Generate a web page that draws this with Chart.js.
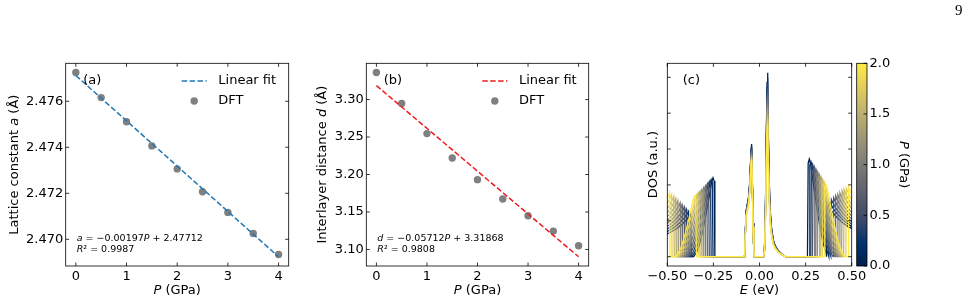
<!DOCTYPE html>
<html>
<head>
<meta charset="utf-8">
<script src="https://cdn.jsdelivr.net/npm/chart.js@4.4.0/dist/chart.umd.min.js"></script>
<style>
    html, body { margin: 0; padding: 0; background: #fff; }
    #fig { position: relative; width: 972px; height: 303px; overflow: hidden; }
    #fig canvas { position: absolute; top: 0; }
    #pagenum { position: absolute; left: 955px; top: 2px; font: 15px 'Liberation Serif', serif; color: #000; }
</style>
</head>
<body>
<div id="fig">
    <canvas id="chartA" width="300" height="303" style="left:0px"></canvas>
    <canvas id="chartB" width="300" height="303" style="left:300px"></canvas>
    <canvas id="chartC" width="280" height="303" style="left:600px"></canvas>
    <canvas id="chartBar" width="122" height="303" style="left:850px"></canvas>
    <div id="pagenum">9</div>
</div>
<script>
// --- (a) y (b): datos DFT vs presión
const pressure = [0, 0.5, 1, 1.5, 2, 2.5, 3, 3.5, 4];
const latticeA = [2.47725, 2.47616, 2.47511, 2.47406, 2.47306, 2.47207, 2.47117, 2.47025, 2.46934];
const interlayerD = [3.3361, 3.2947, 3.2546, 3.2220, 3.1931, 3.1673, 3.1450, 3.1245, 3.1049];
const fitPressure = [0, 4];
const fitLattice = [2.47712, 2.46924];
const fitInterlayer = [3.31868, 3.09020];

const ticksP = [0, 1, 2, 3, 4];
const ticksLattice = [2.470, 2.472, 2.474, 2.476];
const ticksInterlayer = [3.10, 3.15, 3.20, 3.25, 3.30];

// --- (c): DOS para varias presiones (bordes de banda y alturas)
const dosPressure = [0.0, 0.2, 0.4, 0.6, 0.8, 1.0, 1.2, 1.4, 1.6, 1.8, 2.0];
const valenceEdge = [-0.242, -0.252, -0.262, -0.272, -0.282, -0.292, -0.302, -0.312, -0.322, -0.332, -0.342];
const valencePeak = [2.20, 2.15, 2.10, 2.04, 1.98, 1.93, 1.88, 1.83, 1.78, 1.73, 1.68];
const valenceEdge2 = [-0.370, -0.382, -0.394, -0.405, -0.417, -0.428, -0.440, -0.451, -0.462, -0.474, -0.485];
const valenceStep2 = [1.20, 1.26, 1.32, 1.38, 1.44, 1.50, 1.56, 1.62, 1.68, 1.73, 1.78];
const flatPeakLow = [3.14, 3.10, 3.05, 3.01, 2.96, 2.92, 2.87, 2.83, 2.78, 2.74, 2.70];
const flatPeakHigh = [5.13, 4.99, 4.84, 4.70, 4.56, 4.42, 4.27, 4.13, 3.98, 3.84, 3.70];
const conductionEdge = [0.260, 0.269, 0.278, 0.287, 0.296, 0.305, 0.314, 0.323, 0.332, 0.341, 0.350];
const conductionPeak = [2.72, 2.65, 2.58, 2.51, 2.44, 2.37, 2.30, 2.23, 2.16, 2.09, 2.02];
const conductionEdge2 = [0.364, 0.376, 0.387, 0.399, 0.410, 0.422, 0.433, 0.445, 0.456, 0.468, 0.480];
const conductionStep2 = [1.50, 1.55, 1.59, 1.64, 1.69, 1.73, 1.78, 1.83, 1.87, 1.91, 1.95];

// forma de cada rasgo: [desplazamiento (eV), fracción de la altura]
const valenceBandShape = [[-0.115, 0], [-0.1, 0.05], [-0.085, 0.14], [-0.07, 0.28], [-0.055, 0.45], [-0.04, 0.64], [-0.028, 0.8], [-0.018, 0.94], [-0.01, 1.0], [-0.004, 0.96], [0, 0]];
const valenceBand2Shape = [[-0.25, 0.4], [-0.18, 0.46], [-0.12, 0.55], [-0.08, 0.65], [-0.05, 0.75], [-0.025, 0.86], [-0.01, 0.95], [-0.003, 1.0], [0, 0]];
const conductionBandShape = [[0, 0], [0.004, 0.96], [0.01, 1.0], [0.018, 0.94], [0.028, 0.8], [0.04, 0.64], [0.055, 0.45], [0.07, 0.28], [0.085, 0.14], [0.1, 0.05], [0.115, 0]];
const conductionBand2Shape = [[0, 0], [0.003, 1.0], [0.01, 0.95], [0.025, 0.86], [0.05, 0.75], [0.08, 0.65], [0.12, 0.55], [0.18, 0.46], [0.25, 0.4]];
const flatLowShape = [[-0.081, 0], [-0.077, 0.2], [-0.073, 0.4], [-0.067, 0.46], [-0.06, 0.52], [-0.054, 0.64], [-0.049, 0.82], [-0.045, 0.97], [-0.043, 1.0], [-0.04, 0.8], [-0.035, 0.3], [-0.031, 0.06], [-0.028, 0]];
const flatHighShape = [[0.022, 0], [0.027, 0.04], [0.032, 0.25], [0.037, 0.65], [0.041, 0.95], [0.043, 1.0], [0.046, 0.88], [0.05, 0.55], [0.055, 0.33], [0.06, 0.22], [0.066, 0.15], [0.075, 0.09], [0.085, 0.06], [0.1, 0.035], [0.12, 0.015], [0.14, 0]];

const ticksEnergy = [-0.5, -0.25, 0, 0.25, 0.5];
const ticksDos = [0, 1, 2, 3, 4, 5];
const ticksColorbar = [0, 0.5, 1.0, 1.5, 2.0];
const colorbarRange = [0, 2];

const cividisStops = ['#00204D', '#00336F', '#39486B', '#575C6D', '#707173', '#8A8779', '#A69D75', '#C4B56C', '#E4CF5B', '#FFEA46'];

Chart.defaults.font.family = "'DejaVu Sans', sans-serif";
Chart.defaults.font.size = 13;
Chart.defaults.color = '#000';
Chart.defaults.animation = false;
Chart.defaults.responsive = false;
Chart.defaults.plugins.legend.display = false;
Chart.defaults.plugins.tooltip.enabled = false;

const FONT = "'DejaVu Sans', sans-serif";

function cividis(t) {
    const n = cividisStops.length - 1;
    const f = Math.max(0, Math.min(1, t)) * n;
    const i = Math.min(Math.floor(f), n - 1);
    const u = f - i;
    const a = cividisStops[i], b = cividisStops[i + 1];
    const ch = (h, k) => parseInt(h.substr(1 + 2 * k, 2), 16);
    const c = [0, 1, 2].map(k => Math.round(ch(a, k) + (ch(b, k) - ch(a, k)) * u));
    return `rgb(${c[0]},${c[1]},${c[2]})`;
}

function drawRuns(ctx, runs, x, y, size, align, rot) {
    ctx.save();
    ctx.translate(x, y);
    if (rot) ctx.rotate(rot);
    const fontOf = r => (r.i ? 'italic ' : '') + size + 'px ' + FONT;
    let w = 0;
    runs.forEach(r => { ctx.font = fontOf(r); w += ctx.measureText(r.t).width; });
    let cx = align === 'center' ? -w / 2 : 0;
    ctx.textBaseline = 'middle';
    ctx.textAlign = 'left';
    ctx.fillStyle = '#000';
    runs.forEach(r => {
        ctx.font = fontOf(r);
        ctx.fillText(r.t, cx, 0);
        cx += ctx.measureText(r.t).width;
    });
    ctx.restore();
}

// marco, marcas de graduación hacia dentro, leyenda y textos
function decor(cfg) {
    return {
        id: 'decor',
        afterDatasetsDraw(chart) {
            const { ctx, chartArea: a, scales } = chart;
            const len = 3.5;
            ctx.save();
            ctx.strokeStyle = '#000';
            ctx.lineWidth = 0.8;
            ctx.strokeRect(a.left, a.top, a.right - a.left, a.bottom - a.top);
            ctx.beginPath();
            if (cfg.xTicks !== false) {
                scales.x.ticks.forEach(t => {
                    const p = scales.x.getPixelForValue(t.value);
                    ctx.moveTo(p, a.bottom); ctx.lineTo(p, a.bottom - len);
                    ctx.moveTo(p, a.top); ctx.lineTo(p, a.top + len);
                });
            }
            scales.y.ticks.forEach(t => {
                const p = scales.y.getPixelForValue(t.value);
                if (cfg.yLeft !== false) { ctx.moveTo(a.left, p); ctx.lineTo(a.left + len, p); }
                ctx.moveTo(a.right, p); ctx.lineTo(a.right - len, p);
            });
            ctx.stroke();

            if (cfg.legend) {
                const lg = cfg.legend;
                const y1 = a.top + 17.7, y2 = a.top + 37.7;
                ctx.strokeStyle = lg.lineColor;
                ctx.lineWidth = 1.5;
                ctx.setLineDash([5.5, 2.4]);
                ctx.beginPath();
                ctx.moveTo(a.left + 116, y1); ctx.lineTo(a.left + 141, y1);
                ctx.stroke();
                ctx.setLineDash([]);
                ctx.fillStyle = lg.markerColor;
                ctx.beginPath();
                ctx.arc(a.left + 128.5, y2, 3.7, 0, Math.PI * 2);
                ctx.fill();
                drawRuns(ctx, [{ t: lg.labels[0] }], a.left + 152.6, y1, 13, 'left', 0);
                drawRuns(ctx, [{ t: lg.labels[1] }], a.left + 152.6, y2, 13, 'left', 0);
            }
            ctx.restore();

            (cfg.texts || []).forEach(tx => {
                const [x, y] = tx.at(a);
                drawRuns(ctx, tx.runs, x, y, tx.size || 13, tx.align || 'center', tx.rot || 0);
            });
        }
    };
}

function fixedTicks(values) {
    return s => { s.ticks = values.map(v => ({ value: v })); };
}

function xScale(min, max, ticks, fmt, height) {
    return {
        type: 'linear', min: min, max: max,
        afterBuildTicks: fixedTicks(ticks),
        afterFit: s => { s.height = height; },
        grid: { display: false, drawTicks: false, tickLength: 0 },
        border: { display: false },
        ticks: { autoSkip: false, maxRotation: 0, padding: 3, font: { size: 13 }, color: '#000', callback: fmt }
    };
}

function yScale(min, max, ticks, fmt, width, showLabels) {
    return {
        type: 'linear', min: min, max: max,
        afterBuildTicks: fixedTicks(ticks),
        afterFit: s => { s.width = width; },
        grid: { display: false, drawTicks: false, tickLength: 0 },
        border: { display: false },
        ticks: { display: showLabels, autoSkip: false, padding: 2.5, font: { size: 13 }, color: '#000', callback: fmt }
    };
}

const toPts = (xs, ys) => xs.map((x, i) => ({ x: x, y: ys[i] }));

function fitPanel(id, values, fitValues, yMin, yMax, yTicks, yDigits, yWidth, fitColor, letter, yTitle, yTitleGap, fitText, r2Text) {
    new Chart(document.getElementById(id), {
        type: 'scatter',
        data: {
            datasets: [
                {
                    label: 'Linear fit', data: toPts(fitPressure, fitValues), showLine: true,
                    borderColor: fitColor, borderWidth: 1.5, borderDash: [5.5, 2.4], pointRadius: 0
                },
                {
                    label: 'DFT', data: toPts(pressure, values),
                    backgroundColor: '#808080', borderWidth: 0, pointRadius: 3.7
                }
            ]
        },
        options: {
            layout: { padding: { left: 0, top: 63.3, right: 11.3, bottom: 0 } },
            scales: {
                x: xScale(-0.2, 4.2, ticksP, v => String(v), 37),
                y: yScale(yMin, yMax, yTicks, v => v.toFixed(yDigits), yWidth, true)
            }
        },
        plugins: [decor({
            legend: { lineColor: fitColor, markerColor: '#808080', labels: ['Linear fit', 'DFT'] },
            texts: [
                { runs: [{ t: '(' + letter + ')' }], at: a => [a.left + 17.5, a.top + 17.4], align: 'left' },
                { runs: [{ t: 'P', i: true }, { t: ' (GPa)' }], at: a => [(a.left + a.right) / 2, a.bottom + 25] },
                { runs: yTitle, at: a => [a.left - yTitleGap, (a.top + a.bottom) / 2], rot: -Math.PI / 2 },
                { runs: fitText, at: a => [a.left + 11, a.bottom - 27.7], size: 9.5, align: 'left' },
                { runs: r2Text, at: a => [a.left + 11, a.bottom - 16], size: 9.5, align: 'left' }
            ]
        })]
    });
}

fitPanel('chartA', latticeA, fitLattice, 2.46884, 2.47765, ticksLattice, 3, 65.7, '#1f77b4', 'a',
    [{ t: 'Lattice constant ' }, { t: 'a', i: true }, { t: ' (Å)' }], 51,
    [{ t: 'a', i: true }, { t: ' = −0.00197' }, { t: 'P', i: true }, { t: ' + 2.47712' }],
    [{ t: 'R', i: true }, { t: '² = 0.9987' }]);

fitPanel('chartB', interlayerD, fitInterlayer, 3.0779, 3.3484, ticksInterlayer, 2, 66.3, '#ee1c1c', 'b',
    [{ t: 'Interlayer distance ' }, { t: 'd', i: true }, { t: ' (Å)' }], 43.8,
    [{ t: 'd', i: true }, { t: ' = −0.05712' }, { t: 'P', i: true }, { t: ' + 3.31868' }],
    [{ t: 'R', i: true }, { t: '² = 0.9808' }]);

// --- (c) curvas DOS
function dosCurve(k) {
    const pts = [];
    const add = (shape, anchor, h, lo, hi) => shape.forEach(([o, f]) => {
        const x = anchor + o;
        if (x > lo && x < hi) pts.push({ x: x, y: h * f });
    });
    add(valenceBand2Shape, valenceEdge2[k], valenceStep2[k], -9, 9);
    add(valenceBandShape, valenceEdge[k], valencePeak[k], valenceEdge2[k], 9);
    add(flatLowShape, 0, flatPeakLow[k], -9, 9);
    add(flatHighShape, 0, flatPeakHigh[k], -9, 9);
    add(conductionBandShape, conductionEdge[k], conductionPeak[k], -9, conductionEdge2[k]);
    add(conductionBand2Shape, conductionEdge2[k], conductionStep2[k], -9, 9);
    return pts;
}

const pMax = dosPressure[dosPressure.length - 1];
const fmtEnergy = v => v.toFixed(2).replace('-', '−');

new Chart(document.getElementById('chartC'), {
    type: 'line',
    data: {
        datasets: dosPressure.map((p, k) => ({
            label: p.toFixed(1) + ' GPa',
            data: dosCurve(k),
            borderColor: cividis(p / pMax),
            borderWidth: 1.3,
            pointRadius: 0,
            tension: 0,
            order: dosPressure.length - k
        }))
    },
    options: {
        parsing: true,
        layout: { padding: { left: 0, top: 63.3, right: 28.3, bottom: 0 } },
        scales: {
            x: xScale(-0.5, 0.5, ticksEnergy, fmtEnergy, 37),
            y: yScale(-0.26, 5.39, ticksDos, v => String(v), 67.3, false)
        }
    },
    plugins: [decor({
        texts: [
            { runs: [{ t: '(c)' }], at: a => [a.left + 15.4, a.top + 17.4], align: 'left' },
            { runs: [{ t: 'E', i: true }, { t: ' (eV)' }], at: a => [(a.left + a.right) / 2, a.bottom + 25] },
            { runs: [{ t: 'DOS (a.u.)' }], at: a => [a.left - 13.8, (a.top + a.bottom) / 2], rot: -Math.PI / 2 }
        ]
    })]
});

// --- barra de color
new Chart(document.getElementById('chartBar'), {
    type: 'bar',
    data: {
        labels: [''],
        datasets: [{
            data: [colorbarRange],
            borderWidth: 0,
            barPercentage: 1,
            categoryPercentage: 1,
            backgroundColor: c => {
                const ch = c.chart;
                if (!ch.chartArea) return '#808080';
                const y = ch.scales.y;
                const g = ch.ctx.createLinearGradient(0, y.getPixelForValue(colorbarRange[0]), 0, y.getPixelForValue(colorbarRange[1]));
                cividisStops.forEach((col, i) => g.addColorStop(i / (cividisStops.length - 1), col));
                return g;
            }
        }]
    },
    options: {
        layout: { padding: { left: 6.7, top: 63.3, right: 0, bottom: 37 } },
        scales: {
            x: { display: false },
            y: Object.assign(yScale(colorbarRange[0], colorbarRange[1], ticksColorbar, v => v.toFixed(1), 105, true), {
                position: 'right'
            })
        }
    },
    plugins: [decor({
        xTicks: false,
        yLeft: false,
        texts: [
            { runs: [{ t: 'P', i: true }, { t: ' (GPa)' }], at: a => [a.right + 36, (a.top + a.bottom) / 2], rot: Math.PI / 2 }
        ]
    })]
});
</script>
</body>
</html>
